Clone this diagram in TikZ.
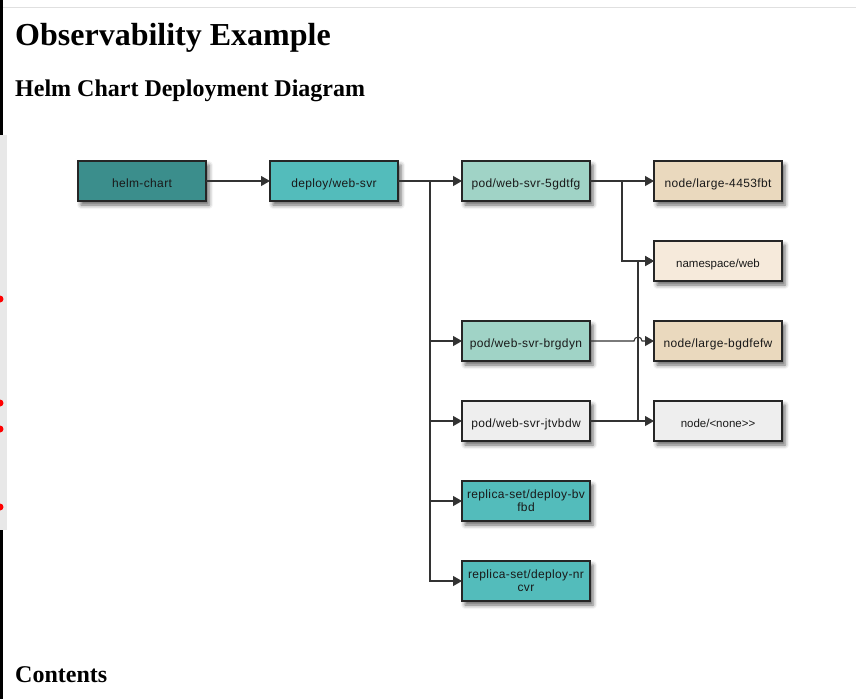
\documentclass[tikz,border=0pt]{standalone}
\usepackage{fontspec}
\setmainfont{Liberation Serif}
\newfontfamily\boxfont[LetterSpace=3]{Liberation Sans}
\newfontfamily\plainfont{Liberation Sans}
\usepackage{xcolor}
\usepackage{tikz}
\usetikzlibrary{arrows.meta,positioning,shadows.blur}
\definecolor{helmteal}{HTML}{3B8E8C}
\definecolor{deployteal}{HTML}{53BCBB}
\definecolor{podgreen}{HTML}{A0D3C6}
\definecolor{nodetan}{HTML}{EAD9BE}
\definecolor{nscream}{HTML}{F6EADB}
\definecolor{idlegrey}{HTML}{EEEEEE}
\colorlet{wire}{black!80}
\def\colsep{64pt}
\def\rowsep{40pt}
\tikzset{
  >=latex,
  box base/.style={draw=black!85,line width=1.2pt,minimum width=128pt,minimum height=40pt,
    inner sep=0pt,outer sep=0pt,align=center,text=black!90,font=\boxfont\fontsize{12}{13}\selectfont,
    blur shadow={shadow xshift=3pt,shadow yshift=-4pt,shadow blur radius=4pt,shadow opacity=60}},
  box/.style={box base,text height=12pt,text depth=0pt},
  box helm/.style={box,fill=helmteal},
  box deploy/.style={box,fill=deployteal},
  box rs/.style={box base,fill=deployteal},
  box pod/.style={box,fill=podgreen},
  box node/.style={box,fill=nodetan},
  box ns/.style={box,fill=nscream,font=\plainfont\fontsize{11.5}{13}\selectfont},
  box idle/.style={box,fill=idlegrey},
  connect/.style={line width=1.1pt,wire},
  connect arrow/.style={connect,-{Triangle[length=9pt,width=10pt]}},
  heading/.style={anchor=base west,inner sep=0pt,font=\bfseries\fontsize{#1}{#1}\selectfont}
}

\begin{document}
\begin{tikzpicture}[x=1pt,y=-1pt]
	\useasboundingbox (0,0) rectangle (856,699);

	% page bits
	\draw[black!12,line width=1pt] (0,7) -- (856,7);
	\fill[black] (0,0) rectangle (3,699);
	\fill[black!9] (0,135) rectangle (7,530);
	\foreach \y in {299,403,429,507}
	\fill[red] (0,\y) circle (3.5);

	\node[heading=32] (title) at (15,45) {Observability Example};
	\node[heading=24] (sub) at (15,96) {Helm Chart Deployment Diagram};
	\node[heading=24] (toc) at (15,682) {Contents};

	% first column and deployment
	\node[box helm] (hc) at (142,181) {helm-chart};
	\node[box deploy, right=\colsep of hc] (dep) {deploy/web-svr};

	% pods and replica sets
	\node[box pod, right=\colsep of dep] (pod1) {pod/web-svr-5gdtfg};
	\node[box pod, below=2*\rowsep+40pt of pod1] (pod2) {pod/web-svr-brgdyn};
	\node[box idle, below=\rowsep of pod2] (pod3) {pod/web-svr-jtvbdw};
	\node[box rs, below=\rowsep of pod3] (rs1) {replica-set/deploy-bv\\fbd};
	\node[box rs, below=\rowsep of rs1] (rs2) {replica-set/deploy-nr\\cvr};

	% cluster nodes and namespace
	\node[box node, right=\colsep of pod1] (nd1) {node/large-4453fbt};
	\node[box ns, below=\rowsep of nd1] (ns) {namespace/web};
	\node[box node, below=\rowsep of ns] (nd2) {node/large-bgdfefw};
	\node[box ns, fill=idlegrey, below=\rowsep of nd2] (nd3) {node/<none>>};

	\draw[connect arrow] (hc) -- (dep);
	\draw[connect arrow] (dep) -- (pod1);
	\path (dep.east) ++(32,0) coordinate (j1);
	\foreach \dest in {pod2,pod3,rs1,rs2}
	\draw[connect arrow] (j1) |- (\dest);

	\draw[connect arrow] (pod1) -- (nd1);
	\path (pod1.east) ++(32,0) coordinate (j2);
	\draw[connect arrow] (j2) |- (ns);

	\path (pod3.east) ++(48,0) coordinate (j3);
	\draw[connect arrow] (pod3) -- (nd3);
	\draw[connect arrow] (j3) |- (ns);

	\draw[connect arrow] (pod2.east) -- ++(44,0) arc[start angle=180,end angle=360,radius=4] -- (nd2);
\end{tikzpicture}
\end{document}
